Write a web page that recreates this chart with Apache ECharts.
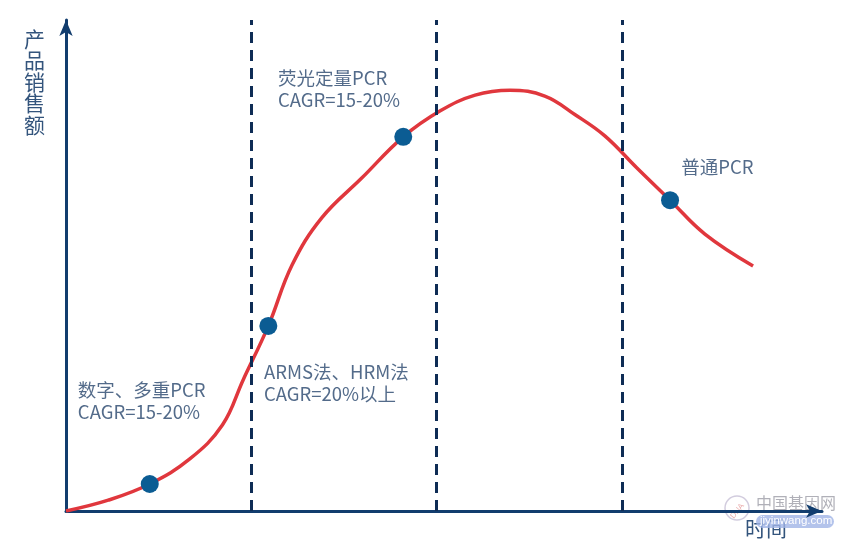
<!DOCTYPE html>
<html>
<head>
<meta charset="utf-8">
<script src="https://cdn.jsdelivr.net/npm/echarts@6/dist/echarts.min.js"></script>
<style>html,body{margin:0;padding:0;background:#fff}#c{width:850px;height:553px}</style>
</head>
<body>
<div id="c"></div>
<script>
// Curve of product sales over time (x: time 0-102, y: sales 0-100)
var curveX = [0, 5.7, 11.3, 16.7, 21.1, 23.9, 27.3, 30.5, 34.5, 39.9, 45.5, 50.5, 55.2, 59.9, 64.6, 68.7, 72.7, 77.0, 81.5, 86.2, 92.7];
var curveY = [0, 2.2, 5.5, 10.6, 17.5, 26.7, 37.7, 50.1, 59.7, 67.8, 76.2, 81.5, 84.7, 85.7, 84.5, 80.7, 76.4, 69.9, 63.3, 56.4, 49.9];
// Highlighted stage points
var dotX = [11.3, 27.3, 45.5, 81.5];
var dotY = [5.5, 37.7, 76.2, 63.3];
// Stage boundaries
var stageBounds = [25, 50, 75];
// Annotations
var noteText = ['数字、多重PCR\nCAGR=15-20%', '荧光定量PCR\nCAGR=15-20%', 'ARMS法、HRM法\nCAGR=20%以上', '普通PCR'];
var noteX = [1.6, 28.6, 26.7, 83.0];
var noteY = [22.4, 86.0, 26.0, 70.1];
var yName = '产品销售额';
var xName = '时间';

var chart = echarts.init(document.getElementById('c'));
var textColor = '#28466d';
var fontFam = '"Noto Sans CJK SC", "Noto Sans", sans-serif';
chart.setOption({
  animation: false,
  grid: {left: 66, right: 28, top: 20, bottom: 42},
  xAxis: {
    type: 'value', min: 0, max: 102,
    axisLine: {show: true, symbol: ['none', 'arrow'], symbolSize: [10, 16], lineStyle: {color: '#123d6e', width: 3}},
    axisTick: {show: false}, axisLabel: {show: false}, splitLine: {show: false}
  },
  yAxis: {
    type: 'value', min: 0, max: 100,
    axisLine: {show: true, symbol: ['none', 'arrow'], symbolSize: [10, 16], lineStyle: {color: '#123d6e', width: 3}},
    axisTick: {show: false}, axisLabel: {show: false}, splitLine: {show: false}
  },
  series: [
    {
      type: 'line', smooth: 0.4, symbol: 'none',
      data: curveX.map(function (x, i) { return [x, curveY[i]]; }),
      lineStyle: {color: '#e0373d', width: 3.5},
      markLine: {
        silent: true, symbol: ['none', 'none'], label: {show: false},
        lineStyle: {color: '#0e2c55', width: 3, type: [11, 7]},
        data: stageBounds.map(function (v) { return {xAxis: v}; })
      },
      z: 2
    },
    {
      type: 'scatter', symbol: 'circle', symbolSize: 18,
      data: dotX.map(function (x, i) { return [x, dotY[i]]; }),
      itemStyle: {color: '#0b5c93', opacity: 1},
      z: 3
    },
    {
      type: 'scatter', symbolSize: 0, silent: true,
      data: noteX.map(function (x, i) { return {value: [x, noteY[i]], label: {formatter: noteText[i]}}; }),
      label: {show: true, position: 'inside', align: 'left', verticalAlign: 'middle',
        color: textColor, fontSize: 18.5, lineHeight: 22, fontFamily: fontFam},
      z: 4
    }
  ],
  graphic: [
    {type: 'text', left: 24, top: 28, style: {text: yName.split('').join('\n'), fill: '#33547c', font: '21px ' + fontFam, lineHeight: 21.5}},
    {type: 'text', left: 745, top: 518, style: {text: xName, fill: '#33547c', font: '21px ' + fontFam}},
    // watermark
    {type: 'circle', shape: {cx: 737, cy: 508, r: 12}, style: {fill: 'rgba(255,255,255,0.3)', stroke: 'rgba(180,170,200,0.6)', lineWidth: 1.5}},
    {type: 'text', left: 729, top: 502, rotation: 0.9, style: {text: 'DNA', fill: 'rgba(220,120,120,0.6)', font: '8px sans-serif'}},
    {type: 'text', left: 756, top: 495, style: {text: '中国基因网', fill: 'rgba(150,150,160,0.75)', font: '16px ' + fontFam}},
    {type: 'rect', shape: {x: 756, y: 515, width: 78, height: 13, r: 6.5}, style: {fill: 'rgba(160,180,230,0.8)'}},
    {type: 'text', left: 760, top: 515, style: {text: 'jiyinwang.com', fill: '#ffffff', font: '11.5px "Liberation Sans", sans-serif'}}
  ]
});
</script>
</body>
</html>
